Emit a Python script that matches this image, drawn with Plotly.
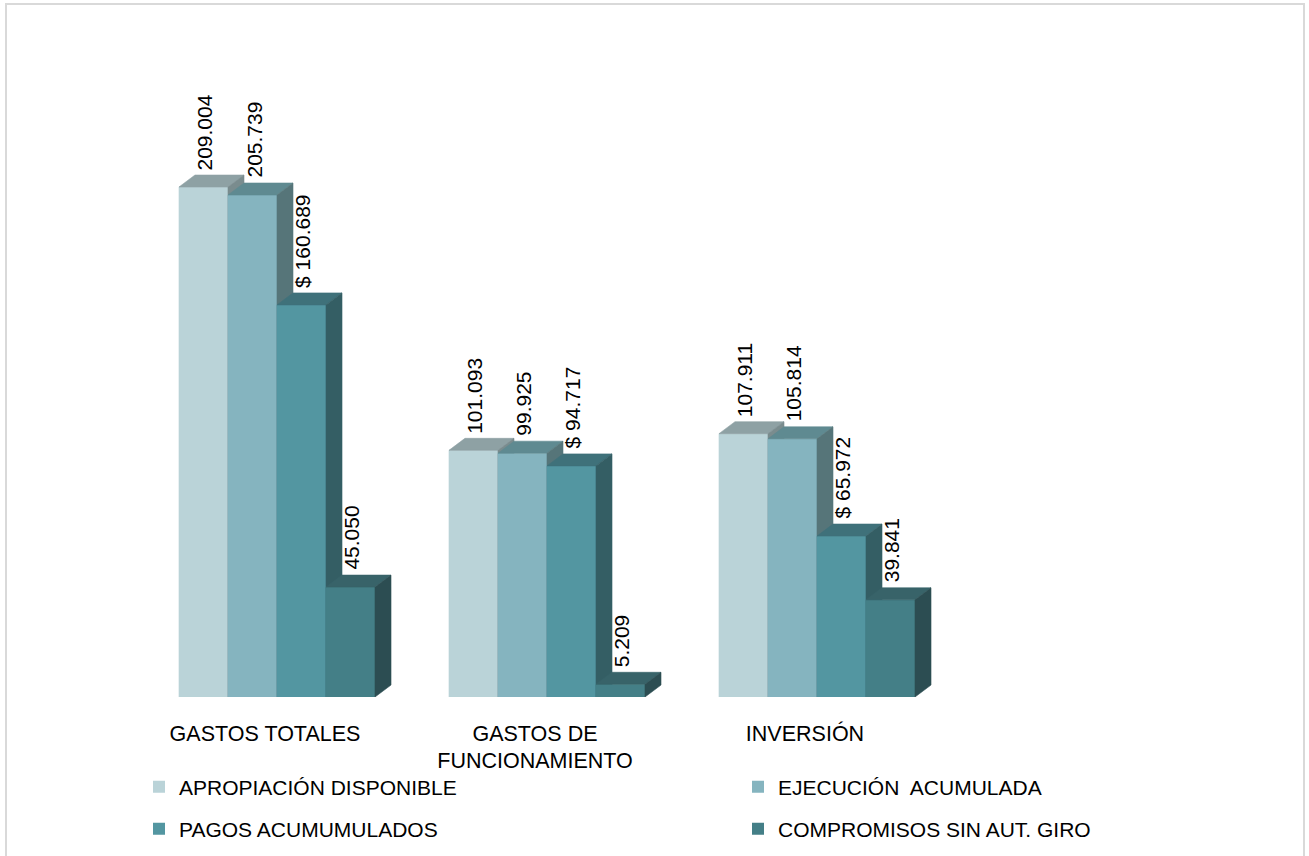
import plotly.graph_objects as go

# ---------------- data ----------------
categories = ["GASTOS TOTALES", "GASTOS DE<br>FUNCIONAMIENTO", "INVERSIÓN"]
series_names = ["APROPIACIÓN DISPONIBLE", "EJECUCIÓN  ACUMULADA",
                "PAGOS ACUMUMULADOS", "COMPROMISOS SIN AUT. GIRO"]
apropiacion = [209004, 101093, 107911]
ejecucion = [205739, 99925, 105814]
pagos = [160689, 94717, 65972]
compromisos = [45050, 5209, 39841]
label_prefix = ["", "", "$ ", ""]

# ---------------- style ----------------
front_colors = ["#BAD3D8", "#85B4BF", "#5396A1", "#447F87"]
top_colors = ["#8EA1A4", "#5F8A91", "#3F717A", "#386369"]
side_colors = ["#7A8C8E", "#567579", "#345E64", "#2C4D52"]
FONT = "Liberation Sans, Arial, sans-serif"
FS = 21

W, H = 1309, 856
M_L, M_R, M_T, M_B = 142, 357, 87, 159
Y_MAX = 250000
plot_w = W - M_L - M_R
plot_h = H - M_T - M_B
x_per_px = 3.0 / plot_w
y_per_px = Y_MAX / plot_h
DEPTH_X = 16 * x_per_px
DEPTH_Y = 12 * y_per_px
GROUP_W = 0.726

all_series = [apropiacion, ejecucion, pagos, compromisos]
n_s = len(all_series)
bw = GROUP_W / n_s


def fmt(v):
    return f"{v:,}".replace(",", ".")


fig = go.Figure()
annotations = []

for ci in range(len(categories)):
    for si, vals in enumerate(all_series):
        v = vals[ci]
        left = ci - GROUP_W / 2 + si * bw
        right = left + bw
        faces = [
            ([left, right, right, left, left], [0, 0, v, v, 0], front_colors[si]),
            ([left, right, right + DEPTH_X, left + DEPTH_X, left],
             [v, v, v + DEPTH_Y, v + DEPTH_Y, v], top_colors[si]),
            ([right, right + DEPTH_X, right + DEPTH_X, right, right],
             [0, DEPTH_Y, v + DEPTH_Y, v, 0], side_colors[si]),
        ]
        for xs, ys, col in faces:
            fig.add_trace(go.Scatter(
                x=xs, y=ys, mode="lines", fill="toself", fillcolor=col,
                line=dict(color=col, width=0.6), showlegend=False,
                hoverinfo="skip"))
        annotations.append(dict(
            x=(left + right) / 2, y=v, xref="x", yref="y",
            text=label_prefix[si] + fmt(v), textangle=-90, showarrow=False,
            xanchor="center", yanchor="bottom", yshift=15, xshift=1,
            font=dict(family=FONT, size=FS, color="#000000")))

# legend entries (each in its own legend, 2x2 layout)
legend_pos = [(139, 787), (738, 787), (139, 829), (738, 829)]
legend_keys = ["legend", "legend2", "legend3", "legend4"]
for si, name in enumerate(series_names):
    fig.add_trace(go.Scatter(
        x=[None], y=[None], mode="markers", name=name,
        marker=dict(symbol="square", size=12, color=front_colors[si]),
        legend=legend_keys[si], hoverinfo="skip"))

legend_layouts = {}
for key, (px, py) in zip(legend_keys, legend_pos):
    legend_layouts[key] = dict(
        x=px / W, y=1 - py / H, xref="container", yref="container",
        xanchor="left", yanchor="middle", orientation="h",
        font=dict(family=FONT, size=FS, color="#000000"),
        bgcolor="rgba(0,0,0,0)", borderwidth=0)

fig.update_layout(
    width=W, height=H,
    margin=dict(l=M_L, r=M_R, t=M_T, b=M_B, autoexpand=False),
    paper_bgcolor="white", plot_bgcolor="white",
    showlegend=True,
    annotations=annotations,
    xaxis=dict(range=[-0.5, 2.5], tickmode="array",
               tickvals=list(range(len(categories))), ticktext=categories,
               showgrid=False, zeroline=False, showline=False, ticks="",
               ticklabelshift=-12, ticklabelstandoff=21, automargin=False,
               tickfont=dict(family=FONT, size=21.5, color="#000000"),
               fixedrange=True),
    yaxis=dict(range=[0, Y_MAX], visible=False, fixedrange=True),
    shapes=[dict(type="rect", xref="paper", yref="paper",
                 x0=(6 - M_L) / plot_w, x1=(1304 - M_L) / plot_w,
                 y0=(H - M_B - 860) / plot_h, y1=(H - M_B - 4) / plot_h,
                 line=dict(color="#D9D9D9", width=2), fillcolor="rgba(0,0,0,0)",
                 layer="below")],
    **legend_layouts,
)

fig.write_html(
    "out.html",
    config={"displayModeBar": False},
    post_script=(
        "document.documentElement.style.margin='0px';"
        "document.documentElement.style.overflow='hidden';"
        "document.body.style.margin='0px';"
        "document.body.style.overflow='hidden';"
        "var gd=document.getElementById('{plot_id}');"
        "gd.style.position='fixed';gd.style.left='0px';gd.style.top='0px';"
    ),
)
